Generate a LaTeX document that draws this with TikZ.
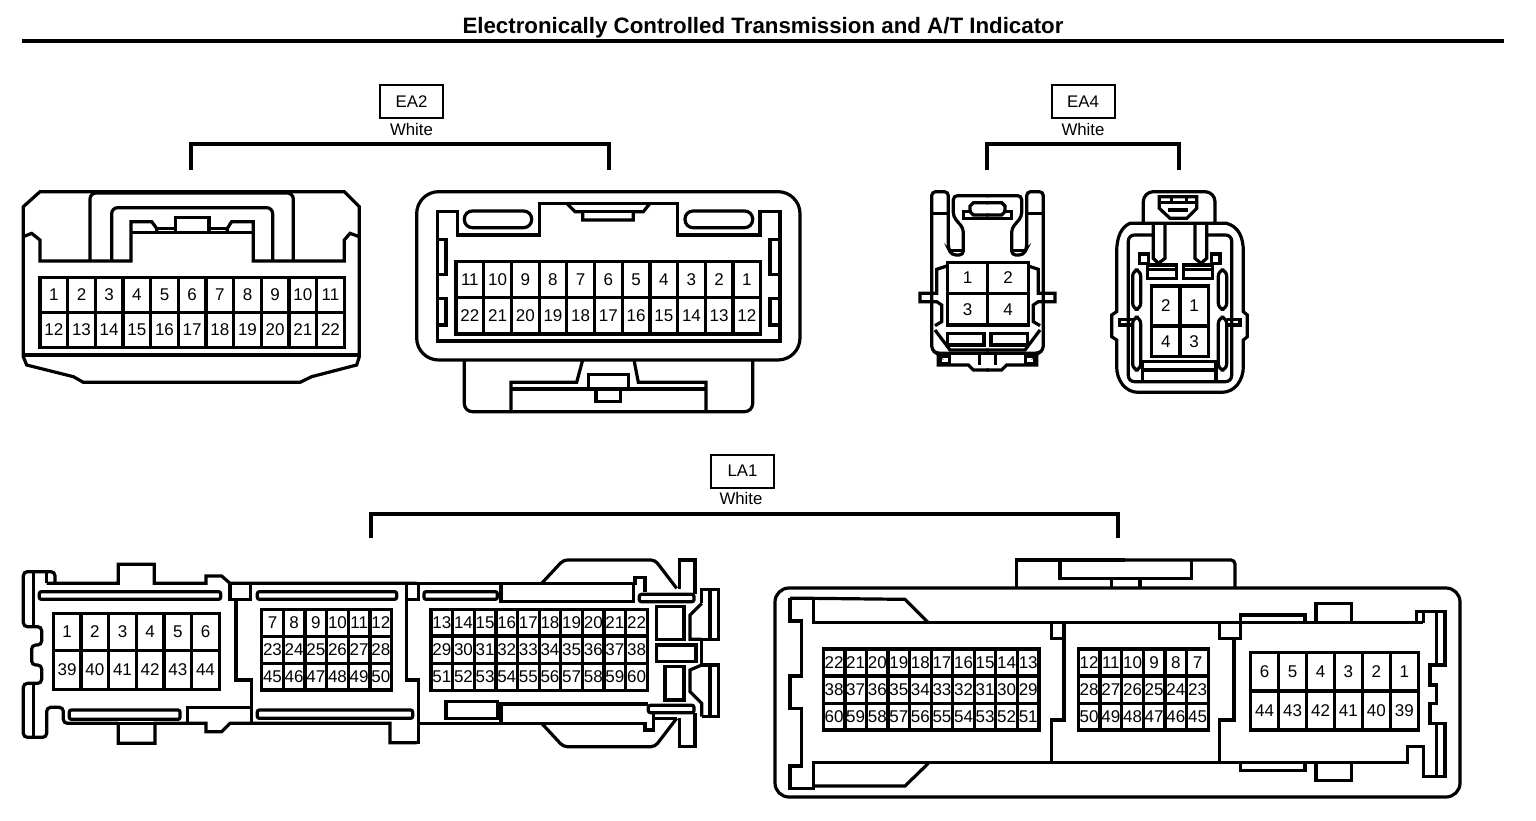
\documentclass[tikz,border=0pt]{standalone}
\usepackage{fontspec}
\setmainfont{Liberation Sans}
\tikzset{
    outline/.style={draw=black, line width=1.6pt},
    pinlabel/.style={inner sep=0pt, font=\fontsize{8.5}{8.5}\selectfont},
    tagbox/.style={draw=black, line width=1pt, minimum width=31.5pt, minimum height=16.5pt, inner sep=0pt, font=\fontsize{8.4}{9}\selectfont},
    taglabel/.style={inner sep=0pt, font=\fontsize{8.4}{9}\selectfont},
}
% one row of pin cavities: name, left, width, top, bottom, pins
\newcommand{\pinrow}[6]{
    \foreach \n [count=\i from 0] in {#6} {
        \draw[outline] ({#2+#3*\i},#4) rectangle ({#2+#3*(\i+1)},#5);
        \node[pinlabel] (#1\n) at ({#2+#3*(\i+.5)},{(#4+#5)/2}) {\n};
    }
}
\begin{document}
\begin{tikzpicture}[x=0.5pt, y=-0.5pt]
    \useasboundingbox (0,0) rectangle (1536,820);
    \node[inner sep=0pt, font=\fontsize{11.15}{12}\selectfont\bfseries] (title) at (763,28) {Electronically Controlled Transmission and A/T Indicator};
    \coordinate (ruleleft) at (22,41);
    \coordinate (ruleright) at (1504,41);
    \draw[draw=black, line width=2pt] (ruleleft) -- (ruleright);

    % labels and brackets
    \node[tagbox] (tagea2) at (411.5,101.5) {EA2};
    \node[taglabel] (whiteea2) at (411.5,129) {White};
    \coordinate (ea2left) at (191,170);
    \coordinate (ea2top) at (400,144);
    \coordinate (ea2right) at (609,170);
    \draw[outline] (ea2left) |- (ea2top) -| (ea2right);

    \node[tagbox] (tagea4) at (1083,101.5) {EA4};
    \node[taglabel] (whiteea4) at (1083,129) {White};
    \coordinate (ea4left) at (987,170);
    \coordinate (ea4top) at (1083,144);
    \coordinate (ea4right) at (1179,170);
    \draw[outline] (ea4left) |- (ea4top) -| (ea4right);

    \node[tagbox] (tagla1) at (742.5,471) {LA1};
    \node[taglabel] (whitela1) at (741,498) {White};
    \coordinate (la1left) at (371,538);
    \coordinate (la1top) at (741,514);
    \coordinate (la1right) at (1118,538);
    \draw[outline] (la1left) |- (la1top) -| (la1right);

    % EA2 left
    \begin{scope}[shift={(10,180)}, scale=1/3]
        \draw[outline] (90,35) -- (1003,35) -- (1048,80) -- (1048,530) -- (1040,555) -- (905,590) -- (870,607) -- (220,607) -- (190,590) -- (50,555) -- (40,530) -- (40,80) -- cycle;
        \draw[outline] (40,525) -- (1048,525);
        \draw[outline] (40,170) -- (65,160) -- (90,180) -- (90,243) -- (363,243) -- (363,125) -- (425,125) -- (440,145) -- (440,158);
        \draw[outline] (1048,170) -- (1020,160) -- (1003,180) -- (1003,243) -- (730,243) -- (730,125) -- (665,125) -- (652,145) -- (652,158);
        \draw[outline] (363,158) -- (730,158);
        \draw[outline] (440,145) -- (497,145) (597,145) -- (652,145);
        \draw[outline] (497,158) -- (497,112) -- (597,112) -- (597,158);
        \draw[outline, rounded corners=3pt] (240,243) -- (240,39) -- (850,39) -- (850,243);
        \draw[outline, rounded corners=3pt] (305,243) -- (305,83) -- (788,83) -- (788,243);
        \pinrow{eaa}{90}{83}{292}{397}{1,2,3,4,5,6,7,8,9,10,11}
        \pinrow{eaa}{90}{83}{397}{503}{12,13,14,15,16,17,18,19,20,21,22}
    \end{scope}

    % EA2 right
    \begin{scope}[shift={(410,180)}, scale=1/3]
        \draw[outline, rounded corners=11pt] (20,35) rectangle (1170,540);
        \draw[outline] (83,95) -- (143,95) -- (143,165) -- (388,165) -- (388,70) -- (803,70) -- (803,165) -- (1050,165) -- (1050,95) -- (1110,95) -- (1110,483) -- (83,483) -- cycle;
        \draw[outline] (470,70) -- (495,95) -- (518,95) -- (518,120) -- (670,120) -- (670,95) -- (700,95) -- (720,70);
        \draw[outline] (495,95) -- (700,95);
        \draw[outline, rounded corners=4pt] (163,93) rectangle (365,143);
        \draw[outline, rounded corners=4pt] (825,93) rectangle (1028,143);
        \draw[outline] (83,178) -- (108,178) -- (108,283) -- (83,283);
        \draw[outline] (83,355) -- (108,355) -- (108,435) -- (83,435);
        \draw[outline] (1110,178) -- (1080,178) -- (1080,283) -- (1110,283);
        \draw[outline] (1110,355) -- (1080,355) -- (1080,435) -- (1110,435);
        \draw[outline, rounded corners=4pt] (163,540) -- (163,695) -- (1028,695) -- (1028,540);
        \draw[outline] (303,695) -- (303,607) -- (500,607) -- (518,540);
        \draw[outline] (888,695) -- (888,607) -- (685,607) -- (672,540);
        \draw[outline] (303,627) -- (888,627);
        \draw[outline] (535,627) -- (535,583) -- (655,583) -- (655,627);
        \draw[outline] (558,627) -- (558,665) -- (632,665) -- (632,627);
        \pinrow{eab}{138}{83.1}{245}{353}{11,10,9,8,7,6,5,4,3,2,1}
        \pinrow{eab}{138}{83.1}{353}{462}{22,21,20,19,18,17,16,15,14,13,12}
    \end{scope}

    % EA4 left
    \foreach \ox/\sx in {910/1,1065/-1} {
        \begin{scope}[shift={(\ox,180)}, xscale=\sx/3, yscale=1/3]
            \draw[outline, rounded corners=2pt] (236,520) -- (80,520) -- (65,510) -- (65,35) -- (115,35) -- (115,205) -- (125,225) -- (160,225) -- (160,145) -- (130,110) -- (130,47) -- (236,47);
            \draw[outline] (65,100) -- (115,100) (120,212) -- (160,212);
            \draw[outline] (160,120) -- (160,95) -- (185,95) (160,115) -- (236,115);
            \draw[outline] (236,68) -- (190,68) -- (180,78) -- (180,95) -- (190,105) -- (236,105);
            \draw[outline] (110,258) -- (80,268) -- (80,340) -- (30,340) -- (30,365) -- (80,365) -- (95,375) -- (95,425) -- (75,437);
            \draw[outline] (75,450) -- (120,510) -- (236,510);
            \draw[outline] (112,460) rectangle (222,495);
            \draw[outline] (85,520) -- (85,555) -- (175,555) -- (190,570) -- (236,570);
            \draw[outline] (92,530) rectangle (118,552);
            \draw[outline] (208,520) -- (208,555);
        \end{scope}
    }
    \begin{scope}[shift={(910,180)}, scale=1/3]
        \pinrow{ecc}{112}{121.5}{248}{340}{1,2}
        \pinrow{ecc}{112}{121.5}{340}{435}{3,4}
    \end{scope}

    % EA4 right
    \begin{scope}[shift={(910,180)}, scale=1/3]
        \draw[outline] (660,130) -- (950,130) .. controls (985,140) and (1000,170) .. (1000,215) -- (1000,395) -- (1012,405) -- (1012,470) -- (1000,480) -- (1000,560) .. controls (1000,600) and (975,637) .. (935,637) -- (685,637) .. controls (645,637) and (620,600) .. (620,560) -- (620,480) -- (605,470) -- (605,405) -- (620,395) -- (620,215) .. controls (620,170) and (635,140) .. (660,130) -- cycle;
        \draw[outline, rounded corners=5pt] (700,130) -- (700,35) -- (915,35) -- (915,130);
        \draw[outline] (748,50) -- (748,85) -- (780,115) -- (830,115) -- (860,85) -- (860,50) -- cycle;
        \draw[outline] (785,50) rectangle (830,68);
        \draw[outline] (748,68) -- (860,68) (775,90) -- (835,90);
        \draw[outline, rounded corners=3pt] (730,165) -- (655,165) -- (655,605) -- (965,605) -- (965,165) -- (890,165);
        \draw[outline] (730,135) -- (730,235) -- (745,250) -- (765,235) -- (765,135);
        \draw[outline] (855,135) -- (855,235) -- (873,250) -- (890,235) -- (890,135);
        \draw[outline] (688,222) rectangle (715,250);
        \draw[outline] (905,222) rectangle (930,250);
        \draw[outline] (712,255) rectangle (800,295);
        \draw[outline] (820,255) rectangle (908,295);
        \draw[outline] (712,268) -- (800,268) (820,268) -- (908,268);
        \draw[outline, rounded corners=3pt] (668,270) rectangle (692,388);
        \draw[outline, rounded corners=3pt] (668,412) rectangle (692,570);
        \draw[outline, rounded corners=3pt] (925,270) rectangle (950,388);
        \draw[outline, rounded corners=3pt] (925,412) rectangle (950,570);
        \draw[outline] (668,418) -- (628,418) -- (628,435) -- (668,435);
        \draw[outline] (950,418) -- (990,418) -- (990,435) -- (950,435);
        \draw[outline] (698,605) -- (698,545) -- (918,545) -- (918,605);
        \draw[outline] (698,570) -- (918,570);
        \pinrow{ecd}{725}{85}{318}{438}{2,1}
        \pinrow{ecd}{725}{85}{438}{530}{4,3}
    \end{scope}

    % LA1 left, pins 1 to 12
    \begin{scope}[shift={(10,550)}, scale=1/3]
        \draw[outline, rounded corners=2pt] (135,100) -- (135,65) -- (40,65) -- (40,230) -- (95,230) -- (95,285) -- (65,285) -- (65,345) -- (95,345) -- (95,400) -- (40,400) -- (40,562) -- (110,562) -- (110,472) -- (160,472) -- (160,520) -- (325,520);
        \draw[outline] (70,65) -- (70,230) (70,400) -- (70,562);
        \draw[outline] (110,65) -- (110,100);
        \draw[outline] (110,100) -- (325,100) -- (325,43) -- (433,43) -- (433,100) -- (588,100) -- (588,78) -- (635,78) -- (660,100) -- (1220,100);
        \draw[outline] (325,520) -- (325,580) -- (435,580) -- (435,520) -- (588,520) -- (588,545) -- (635,545) -- (660,520) -- (1140,520) -- (1140,578) -- (1220,578);
        \draw[outline] (325,520) -- (435,520);
        \draw[outline, rounded corners=1pt] (88,125) rectangle (632,148);
        \draw[outline, rounded corners=1pt] (178,480) rectangle (510,508);
        \draw[outline, rounded corners=1pt] (742,125) rectangle (1160,148);
        \draw[outline, rounded corners=1pt] (742,480) rectangle (1208,505);
        \draw[outline] (533,520) -- (533,472) -- (725,472);
        \draw[outline] (660,100) -- (660,148) -- (722,148) -- (722,100);
        \draw[outline] (678,148) -- (678,390) -- (725,390) -- (725,520);
        \pinrow{lab}{130}{83}{190}{302}{1,2,3,4,5,6}
        \pinrow{lab}{130}{83}{302}{418}{39,40,41,42,43,44}
        \pinrow{lab}{755}{65}{178}{260}{7,8,9,10,11,12}
        \pinrow{lab}{755}{65}{260}{340}{23,24,25,26,27,28}
        \pinrow{lab}{755}{65}{340}{420}{45,46,47,48,49,50}
    \end{scope}

    % LA1 left, pins 13 to 22
    \begin{scope}[shift={(400,550)}, scale=1/3]
        \draw[outline] (20,100) -- (20,148) -- (55,148) -- (55,100);
        \draw[outline] (20,148) -- (20,390) -- (55,390) -- (55,578) -- (0,578);
        \draw[outline] (30,100) -- (705,100) -- (705,82) -- (735,82) -- (735,125);
        \draw[outline, rounded corners=1pt] (72,125) rectangle (292,148);
        \draw[outline] (303,100) -- (303,155) -- (700,155) -- (700,100);
        \draw[outline, rounded corners=1pt] (718,133) rectangle (882,155);
        \draw[outline, rounded corners=2pt] (425,100) -- (490,30) -- (765,30) -- (830,115);
        \draw[outline] (838,118) -- (838,30) -- (885,30) -- (885,133);
        \draw[outline] (905,160) -- (905,118) -- (955,118) -- (955,268) -- (905,268) -- (905,345) -- (955,345) -- (955,500) -- (905,500);
        \draw[outline] (930,118) -- (930,268) (930,345) -- (930,500);
        \draw[outline] (905,160) -- (870,195) -- (870,268) -- (905,268);
        \draw[outline] (905,345) -- (870,360) -- (870,425) -- (905,460) -- (905,500);
        \draw[outline] (770,170) rectangle (852,268);
        \draw[outline] (770,285) rectangle (888,335);
        \draw[outline] (795,350) rectangle (852,450);
        \draw[outline] (138,455) rectangle (292,505);
        \draw[outline] (303,520) -- (303,462) -- (745,462);
        \draw[outline, rounded corners=1pt] (745,466) rectangle (882,488);
        \draw[outline] (55,520) -- (735,520) -- (735,540) -- (760,540) -- (760,488);
        \draw[outline] (760,505) -- (830,505);
        \draw[outline, rounded corners=2pt] (425,520) -- (490,590) -- (765,590) -- (830,505);
        \draw[outline] (838,505) -- (838,590) -- (885,590) -- (885,488);
        \pinrow{lac}{93}{64.9}{178}{258}{13,14,15,16,17,18,19,20,21,22}
        \pinrow{lac}{93}{64.9}{258}{340}{29,30,31,32,33,34,35,36,37,38}
        \pinrow{lac}{93}{64.9}{340}{422}{51,52,53,54,55,56,57,58,59,60}
    \end{scope}

    % LA1 right, body
    \draw[outline, rounded corners=7pt] (775,588) rectangle (1460,797);
    \begin{scope}[shift={(765,550)}, scale=1/3]
        \draw[outline] (755,115) -- (755,30) -- (1080,30);
        \draw[outline] (885,30) -- (885,85) -- (1080,85);
        \draw[outline] (1040,85) -- (1040,115);
        \draw[outline] (75,145) -- (145,145) -- (420,148) -- (490,218);
        \draw[outline] (145,145) -- (145,218) -- (1080,218);
        \draw[outline] (75,145) -- (75,213) -- (110,213) -- (110,378) -- (75,378) -- (75,475) -- (110,475) -- (110,648) -- (75,648) -- (75,715) -- (145,715) -- (145,638) -- (1080,638);
        \draw[outline] (145,708) -- (420,708) -- (490,640);
        \draw[outline] (860,222) -- (860,265) -- (897,265) -- (897,510) -- (860,510) -- (860,638);
        \draw[outline] (897,218) -- (897,265);
        \pinrow{lad}{175}{64.7}{297}{378}{22,21,20,19,18,17,16,15,14,13}
        \pinrow{lad}{175}{64.7}{378}{460}{38,37,36,35,34,33,32,31,30,29}
        \pinrow{lad}{175}{64.7}{460}{540}{60,59,58,57,56,55,54,53,52,51}
        \pinrow{lad}{940}{65}{297}{378}{12,11,10,9,8,7}
        \pinrow{lad}{940}{65}{378}{460}{28,27,26,25,24,23}
        \pinrow{lad}{940}{65}{460}{540}{50,49,48,47,46,45}
    \end{scope}
    \begin{scope}[shift={(1110,550)}, scale=1/3]
        \draw[outline, rounded corners=2pt] (0,30) -- (375,30) -- (375,115);
        \draw[outline] (245,30) -- (245,85) -- (0,85);
        \draw[outline] (90,85) -- (90,115);
        \draw[outline] (0,218) -- (940,218);
        \draw[outline] (920,218) -- (920,185) -- (1005,185) -- (1005,345) -- (960,345) -- (960,405) -- (980,405) -- (980,460) -- (960,460) -- (960,520) -- (1005,520) -- (1005,680) -- (940,680) -- (940,590) -- (892,590) -- (892,638) -- (0,638);
        \draw[outline] (980,185) -- (980,345) (980,520) -- (980,680);
        \draw[outline] (940,185) -- (940,218);
        \draw[outline] (328,222) -- (328,265) -- (392,265) -- (392,195) -- (585,195) -- (585,218);
        \draw[outline] (372,265) -- (372,510) -- (328,510) -- (328,638);
        \draw[outline] (618,218) -- (618,160) -- (725,160) -- (725,218);
        \draw[outline] (392,638) -- (392,662) -- (585,662) -- (585,638);
        \draw[outline] (618,638) -- (618,692) -- (725,692) -- (725,638);
        \pinrow{lae}{422}{83.8}{307}{423}{6,5,4,3,2,1}
        \pinrow{lae}{422}{83.8}{423}{540}{44,43,42,41,40,39}
    \end{scope}
\end{tikzpicture}
\end{document}
